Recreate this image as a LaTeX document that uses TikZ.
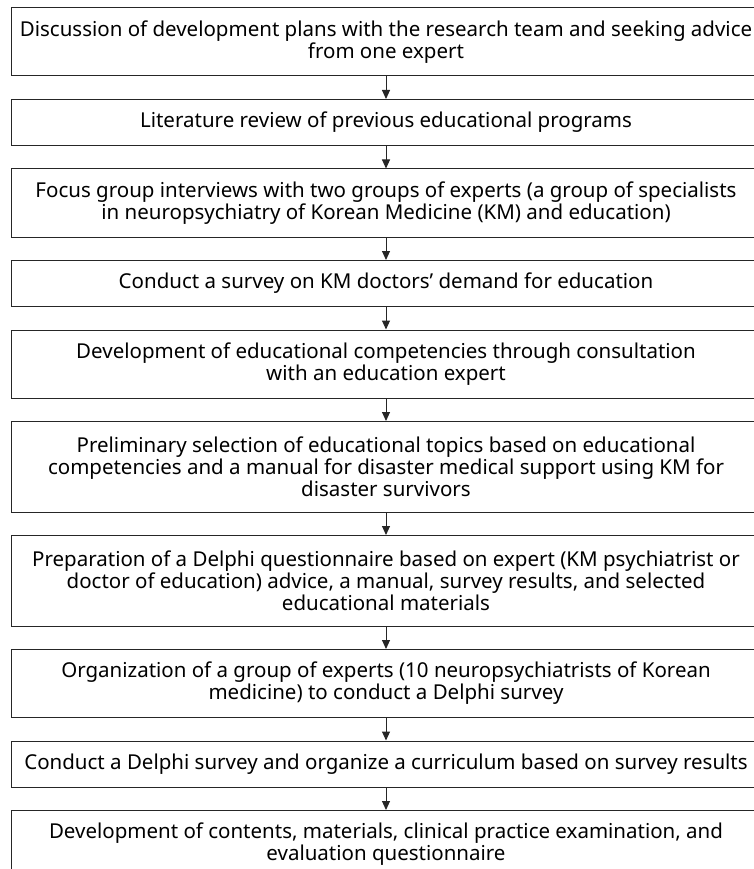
\documentclass[tikz,border=0pt]{standalone}
\usepackage{fontspec}
\setmainfont{Noto Sans}
\usetikzlibrary{positioning,arrows.meta}

\begin{document}
\begin{tikzpicture}[x=1pt,y=-1pt]
\tikzstyle{stage}=[draw=black!85, line width=1pt, minimum width=750pt,
  minimum height=#1, inner sep=0pt, align=center,
  font=\fontsize{20.5}{22}\selectfont]
\tikzstyle{flow}=[line width=1pt, draw=black!85,
  -{Triangle[width=8pt,length=9pt]}]
\useasboundingbox (0,0) rectangle (753,869);

% steps of the development
\node[stage=68pt] (discuss) at (386,42)
  {Discussion of development plans with the research team and seeking advice\\from one expert};
\node[stage=46pt, below=22.5pt of discuss] (review)
  {Literature review of previous educational programs};
\node[stage=68pt, below=22.5pt of review] (focus)
  {Focus group interviews with two groups of experts (a group of specialists\\in neuropsychiatry of Korean Medicine (KM) and education)};
\node[stage=46pt, below=22.5pt of focus] (survey)
  {Conduct a survey on KM doctors’ demand for education};
\node[stage=68pt, below=22.5pt of survey] (compet)
  {Development of educational competencies through consultation\\with an education expert};
\node[stage=90.5pt, below=22.5pt of compet] (topics)
  {Preliminary selection of educational topics based on educational\\competencies and a manual for disaster medical support using KM for\\disaster survivors};
\node[stage=90.5pt, below=22.5pt of topics] (quest)
  {Preparation of a Delphi questionnaire based on expert (KM psychiatrist or\\doctor of education) advice, a manual, survey results, and selected\\educational materials};
\node[stage=68pt, below=22.5pt of quest] (panel)
  {Organization of a group of experts (10 neuropsychiatrists of Korean\\medicine) to conduct a Delphi survey};
\node[stage=46pt, below=22.5pt of panel] (delphi)
  {Conduct a Delphi survey and organize a curriculum based on survey results};
\node[stage=68pt, below=22.5pt of delphi] (contents)
  {Development of contents, materials, clinical practice examination, and\\evaluation questionnaire};

% arrows between steps
\foreach \a/\b in {discuss/review, review/focus, focus/survey, survey/compet,
  compet/topics, topics/quest, quest/panel, panel/delphi, delphi/contents}
  \draw[flow] (\a) -- (\b);
\end{tikzpicture}
\end{document}
